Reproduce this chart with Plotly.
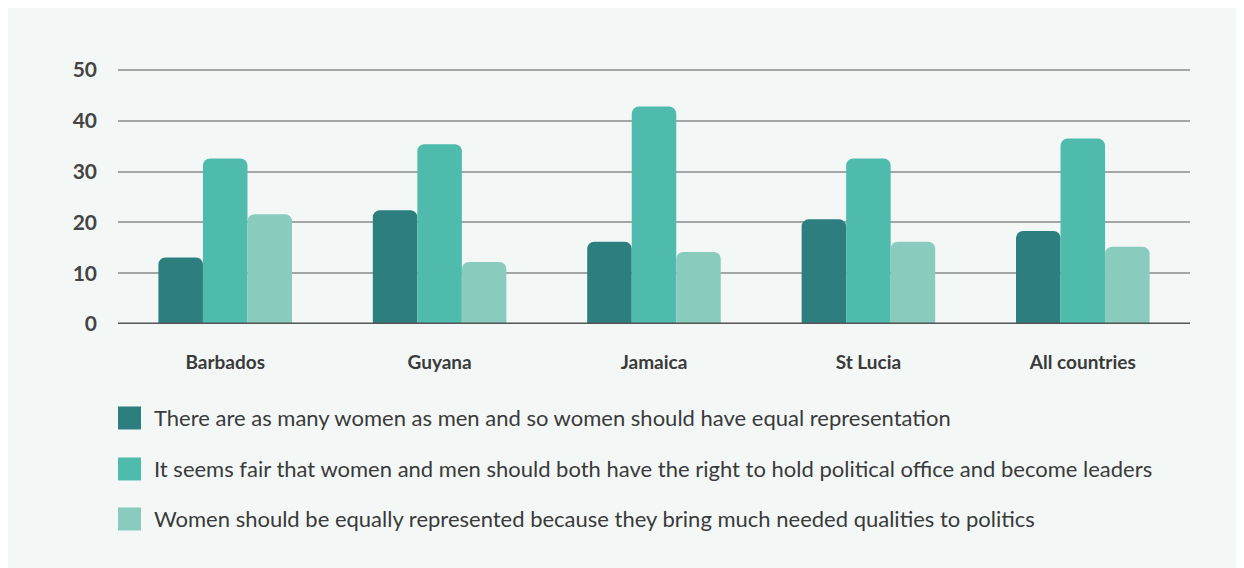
import plotly.graph_objects as go

categories = ["Barbados", "Guyana", "Jamaica", "St Lucia", "All countries"]
series_names = [
    "There are as many women as men and so women should have equal representation",
    "It seems fair that women and men should both have the right to hold political office and become leaders",
    "Women should be equally represented because they bring much needed qualities to politics",
]
equal_numbers = [13.1, 22.4, 16.2, 20.6, 18.3]
fair_right = [32.6, 35.4, 42.8, 32.6, 36.5]
qualities = [21.6, 12.2, 14.2, 16.2, 15.2]
y_ticks = [0, 10, 20, 30, 40, 50]

colors = ["#2d7e7f", "#4ebbad", "#89cbbd"]
values = [equal_numbers, fair_right, qualities]

# figure coordinates (page is offset by the 8px body margin)
W, H = 1244, 568
L, R = 110, 1182
YMAX = 50.6
B = 316
T0 = 62  # pixel of value 50
ppu = (B - T0) / 50.0
T = B - YMAX * ppu
pw, ph = R - L, B - T

def px(x):
    return (x - L) / pw

def py(y):
    return (B - y) / ph

fig = go.Figure()
for name, vals, c in zip(series_names, values, colors):
    fig.add_trace(go.Bar(
        x=categories, y=vals, name=name,
        marker=dict(color=c, line=dict(width=0), cornerradius=7),
        showlegend=False,
    ))

shapes = []
# zero line
shapes.append(dict(type="line", xref="paper", yref="y", x0=0, x1=1, y0=0, y1=0,
                   line=dict(color="#555555", width=3)))

annotations = []
rows = [410, 461, 511]
for name, c, yc in zip(series_names, colors, rows):
    shapes.append(dict(type="rect", xref="paper", yref="paper",
                       x0=px(110), x1=px(133), y0=py(yc + 11.5), y1=py(yc - 11.5),
                       fillcolor=c, line=dict(width=0)))
    annotations.append(dict(xref="paper", yref="paper", x=px(144), y=py(yc),
                            xanchor="left", yanchor="middle", showarrow=False,
                            text=name, font=dict(family="Lato", size=22, color="#3a3a3a")))

fig.update_layout(
    width=W, height=H,
    margin=dict(l=L, r=W - R, t=T, b=H - B, pad=0),
    paper_bgcolor="#f3f8f7",
    plot_bgcolor="rgba(0,0,0,0)",
    barmode="group",
    bargap=0.377,
    bargroupgap=0,
    shapes=shapes,
    annotations=annotations,
    xaxis=dict(
        showgrid=False, showline=False, zeroline=False, ticks="",
        tickfont=dict(family="Lato", size=19, color="#3a3a3a", weight="bold"),
        ticklabelstandoff=25,
    ),
    yaxis=dict(
        range=[0, YMAX], tickvals=y_ticks, showgrid=True, gridcolor="#a3a5a7", gridwidth=1.5,
        zeroline=False, showline=False, ticks="",
        tickfont=dict(family="Lato", size=21, color="#444444", weight="bold"),
        ticklabelstandoff=20,
    ),
)

fig.write_html("out.html")
